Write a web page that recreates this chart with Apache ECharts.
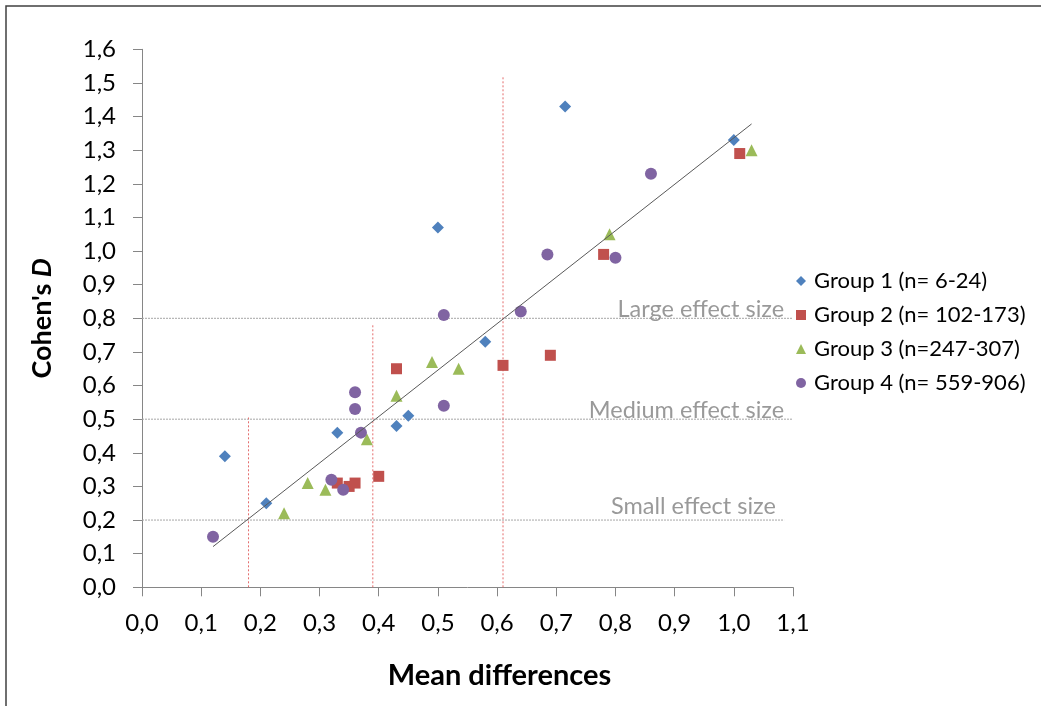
<!DOCTYPE html>
<html>
<head>
<meta charset="utf-8">
<script src="https://cdn.jsdelivr.net/npm/echarts@6/dist/echarts.min.js"></script>
<style>
html,body{margin:0;padding:0;background:#fff;}
#chart{width:1041px;height:706px;}
</style>
</head>
<body>
<div id="chart"></div>
<script>
// ---- data ----
const seriesNames = ['Group 1 (n= 6-24)', 'Group 2 (n= 102-173)', 'Group 3 (n=247-307)', 'Group 4 (n= 559-906)'];
const group1X = [0.14, 0.21, 0.33, 0.43, 0.45, 0.50, 0.58, 0.715, 1.00];
const group1Y = [0.39, 0.25, 0.46, 0.48, 0.51, 1.07, 0.73, 1.43, 1.33];
const group2X = [0.33, 0.35, 0.36, 0.40, 0.43, 0.61, 0.69, 0.78, 1.01];
const group2Y = [0.31, 0.30, 0.31, 0.33, 0.65, 0.66, 0.69, 0.99, 1.29];
const group3X = [0.24, 0.28, 0.31, 0.38, 0.43, 0.49, 0.535, 0.79, 1.03];
const group3Y = [0.22, 0.31, 0.29, 0.44, 0.57, 0.67, 0.65, 1.05, 1.30];
const group4X = [0.12, 0.32, 0.34, 0.36, 0.36, 0.37, 0.51, 0.51, 0.64, 0.685, 0.80, 0.86];
const group4Y = [0.15, 0.32, 0.29, 0.58, 0.53, 0.46, 0.54, 0.81, 0.82, 0.99, 0.98, 1.23];
const trendX = [0.12, 1.03];
const trendY = [0.121, 1.378];
const effectLevels = [0.2, 0.5, 0.8];
const effectLabels = ['Small effect size', 'Medium effect size', 'Large effect size'];
const effectLineEnd = [1.085, 1.1, 1.1];
const effectLabelX = [1.071, 1.085, 1.085];
const cutoffX = [0.18, 0.39, 0.61];
const cutoffTop = [0.505, 0.785, 1.52];
const xTickLabels = ['0,0','0,1','0,2','0,3','0,4','0,5','0,6','0,7','0,8','0,9','1,0','1,1'];
const yTickLabels = ['0,0','0,1','0,2','0,3','0,4','0,5','0,6','0,7','0,8','0,9','1,0','1,1','1,2','1,3','1,4','1,5','1,6'];

// ---- styles ----
const colors = ['#4F81BD', '#C0504D', '#9BBB59', '#8064A2'];
const symbols = ['diamond', 'rect', 'triangle', 'circle'];
const symbolSizes = [12, 11, 12, 12];
const labelOffsets = [[0, -2], [0, 3], [0, 3]];
const FONT = 'Lato, "Open Sans", sans-serif';

const zip = (xs, ys) => xs.map((x, i) => [x, ys[i]]);
const groups = [zip(group1X, group1Y), zip(group2X, group2Y), zip(group3X, group3Y), zip(group4X, group4Y)];

const series = [];

// effect size horizontal lines
effectLevels.forEach((lv, i) => {
  series.push({
    type: 'line', silent: true, symbol: 'none', z: 1,
    data: [[0, lv], [effectLineEnd[i], lv]],
    lineStyle: { color: '#a6a6a6', width: 1, type: [2, 1] }
  });
});
// cutoff vertical lines
cutoffX.forEach((cx, i) => {
  series.push({
    type: 'line', silent: true, symbol: 'none', z: 1,
    data: [[cx, 0], [cx, cutoffTop[i]]],
    lineStyle: { color: '#e46c6c', width: 1, type: [2, 2] }
  });
});
// effect labels
series.push({
  type: 'scatter', silent: true, symbolSize: 0, z: 3,
  data: effectLevels.map((lv, i) => ({
    value: [effectLabelX[i], lv],
    label: {
      show: true, position: [0, 0], align: 'right', verticalAlign: 'bottom',
      offset: labelOffsets[i], formatter: effectLabels[i],
      color: '#7f7f7f', fontSize: 23.5, fontFamily: FONT
    }
  }))
});
// group scatters
groups.forEach((g, i) => {
  series.push({
    name: seriesNames[i], type: 'scatter', z: 4,
    symbol: symbols[i], symbolSize: symbolSizes[i],
    itemStyle: { color: colors[i], opacity: 1 },
    data: g
  });
});
// trend line
series.push({
  type: 'line', silent: true, symbol: 'none', z: 5,
  data: zip(trendX, trendY),
  lineStyle: { color: '#595959', width: 1 }
});

const chart = echarts.init(document.getElementById('chart'), null, { renderer: 'canvas' });
chart.setOption({
  animation: false,
  backgroundColor: '#ffffff',
  textStyle: { fontFamily: FONT },
  grid: { left: 142, top: 49.3, width: 651, height: 538 },
  graphic: [{
    type: 'rect', silent: true, z: -1,
    shape: { x: 6, y: 6, width: 1200, height: 900 },
    style: { fill: 'none', stroke: '#404040', lineWidth: 1.5 }
  }],
  legend: {
    orient: 'vertical', left: 796, top: 270, padding: 0,
    itemWidth: 10, itemHeight: 10, itemGap: 12,
    data: seriesNames.map((n, i) => ({ name: n, icon: symbols[i] })),
    textStyle: { fontSize: 22, color: '#000', fontFamily: FONT, padding: [0, 0, 0, 3], lineHeight: 22 }
  },
  xAxis: {
    type: 'value', min: 0, max: 1.1, interval: 0.1,
    name: 'Mean differences', nameLocation: 'middle', nameGap: 74,
    nameTextStyle: { fontSize: 29, fontWeight: 'bold', color: '#000', fontFamily: FONT, padding: [0, 0, 0, 64] },
    axisLine: { show: true, lineStyle: { color: '#868686', width: 1 } },
    axisTick: { show: true, length: 9, lineStyle: { color: '#868686' } },
    axisLabel: {
      fontSize: 24, color: '#000', margin: 24, fontFamily: FONT,
      formatter: v => xTickLabels[Math.round(v * 10)]
    },
    splitLine: { show: false }
  },
  yAxis: {
    type: 'value', min: 0, max: 1.6, interval: 0.1,
    name: "Cohen's {i|D}", nameLocation: 'middle', nameGap: 86, nameRotate: 90,
    nameTextStyle: {
      fontSize: 27, fontWeight: 'bold', color: '#000', fontFamily: FONT,
      rich: { i: { fontSize: 27, fontWeight: 'bold', fontStyle: 'italic', color: '#000', fontFamily: FONT } }
    },
    axisLine: { show: true, lineStyle: { color: '#868686', width: 1 } },
    axisTick: { show: true, length: 9, lineStyle: { color: '#868686' } },
    axisLabel: {
      fontSize: 24, color: '#000', margin: 26, fontFamily: FONT,
      formatter: v => yTickLabels[Math.round(v * 10)]
    },
    splitLine: { show: false }
  },
  series: series
});
</script>
</body>
</html>
